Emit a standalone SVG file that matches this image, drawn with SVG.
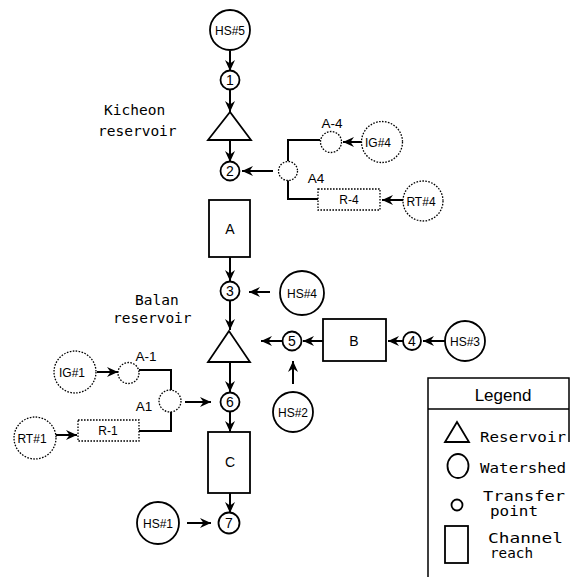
<svg xmlns="http://www.w3.org/2000/svg" width="572" height="577" viewBox="0 0 572 577">
<style>
.s{fill:#fff;stroke:#000;stroke-width:1.8}
.d{fill:#fff;stroke:#000;stroke-width:1.3;stroke-dasharray:1.6 1.4}
.ln{fill:none;stroke:#000;stroke-width:2}
.ar{fill:none;stroke:#000;stroke-width:2;marker-end:url(#ah)}
.t{font-family:"Liberation Sans",Arial,sans-serif;fill:#000;text-anchor:middle}
.hs{font-size:12px}
.n{font-size:14px}
.bx{font-size:14px}
.lb{font-size:13.5px}
.m{font-family:"DejaVu Sans Mono","Liberation Mono",monospace;fill:#000;font-size:14.5px}
.lg{font-family:"DejaVu Sans Mono","Liberation Mono",monospace;fill:#000;font-size:13.5px}
</style>
<defs>
<marker id="ah" markerUnits="userSpaceOnUse" markerWidth="12" markerHeight="10" refX="11" refY="5" orient="auto">
<path d="M0,0 L11,5 L0,10 L3.5,5 z" fill="#000"/>
</marker>
</defs>

<g id="connectors">
<line class="ar" x1="230" y1="51" x2="230" y2="71"/>
<line class="ar" x1="230" y1="90" x2="230" y2="112"/>
<line class="ar" x1="230" y1="140" x2="230" y2="162"/>
<line class="ar" x1="273" y1="171" x2="242" y2="171"/>
<line class="ar" x1="362" y1="142" x2="343" y2="142"/>
<polyline class="ln" points="288,161 288,140 320,140"/>
<polyline class="ln" points="288,180 288,199 318,199"/>
<line class="ar" x1="403" y1="200" x2="382" y2="200"/>
<line class="ar" x1="230" y1="257" x2="230" y2="281"/>
<line class="ar" x1="270" y1="292" x2="249" y2="292"/>
<line class="ar" x1="230" y1="301" x2="230" y2="330"/>
<line class="ar" x1="230" y1="362" x2="230" y2="392"/>
<line class="ar" x1="282" y1="341" x2="261" y2="341"/>
<line class="ar" x1="323" y1="341" x2="303" y2="341"/>
<line class="ar" x1="403" y1="341" x2="388" y2="341"/>
<line class="ar" x1="445" y1="341" x2="423" y2="341"/>
<line class="ar" x1="293" y1="384" x2="293" y2="361"/>
<line class="ar" x1="97" y1="372" x2="118" y2="372"/>
<polyline class="ln" points="139,370 171,370 171,390"/>
<polyline class="ln" points="171,412 171,431 139,431"/>
<line class="ar" x1="55" y1="435" x2="77" y2="435"/>
<line class="ar" x1="185" y1="402" x2="211" y2="402"/>
<line class="ar" x1="230" y1="412" x2="230" y2="432"/>
<line class="ar" x1="230" y1="493" x2="230" y2="513"/>
<line class="ar" x1="187" y1="523" x2="211" y2="523"/>
</g>

<g id="hs5"><circle class="s" cx="230" cy="30" r="20"/><text class="t hs" x="230" y="34.5">HS#5</text></g>
<g id="n1"><circle class="s" cx="230" cy="80" r="9.5"/><text class="t n" x="230" y="85">1</text></g>
<g id="kicheon"><polygon class="s" points="230,112 208,140 251,140"/>
<text class="m" x="104" y="115">Kicheon</text><text class="m" x="98" y="136">reservoir</text></g>
<g id="n2"><circle class="s" cx="230" cy="171" r="9.5"/><text class="t n" x="230" y="176">2</text></g>
<g id="a4"><circle class="d" cx="288" cy="171" r="9.5"/><text class="t lb" x="316" y="183">A4</text></g>
<g id="am4"><circle class="d" cx="331" cy="142" r="10.5"/><text class="t lb" x="332" y="128">A-4</text></g>
<g id="ig4"><circle class="d" cx="382" cy="142" r="20.5"/><text class="t hs" x="378" y="146.5">IG#4</text></g>
<g id="r4"><rect class="d" x="318" y="189" width="62" height="21"/><text class="t hs" x="349" y="204">R-4</text></g>
<g id="rt4"><circle class="d" cx="423" cy="201" r="20"/><text class="t hs" x="421" y="205.5">RT#4</text></g>
<g id="A"><rect class="s" x="209" y="200" width="41" height="57"/><text class="t bx" x="230" y="234">A</text></g>
<g id="n3"><circle class="s" cx="230" cy="291" r="9.5"/><text class="t n" x="230" y="296">3</text></g>
<g id="hs4"><circle class="s" cx="302" cy="293" r="22"/><text class="t hs" x="302" y="297.5">HS#4</text></g>
<g id="balan"><polygon class="s" points="229,331 208,362 250,362"/>
<text class="m" x="135" y="305">Balan</text><text class="m" x="113" y="323">reservoir</text></g>
<g id="n5"><circle class="s" cx="292" cy="341" r="9.5"/><text class="t n" x="292" y="346">5</text></g>
<g id="B"><rect class="s" x="323" y="319" width="63" height="42"/><text class="t bx" x="354" y="346">B</text></g>
<g id="n4"><circle class="s" cx="412" cy="341" r="9"/><text class="t n" x="412" y="346">4</text></g>
<g id="hs3"><circle class="s" cx="465" cy="341" r="20"/><text class="t hs" x="465" y="345.5">HS#3</text></g>
<g id="hs2"><circle class="s" cx="293" cy="412" r="20"/><text class="t hs" x="293" y="416.5">HS#2</text></g>
<g id="ig1"><circle class="d" cx="75" cy="372" r="21"/><text class="t hs" x="72" y="376.5">IG#1</text></g>
<g id="am1"><circle class="d" cx="128.5" cy="373" r="10.5"/><text class="t lb" x="146" y="361">A-1</text></g>
<g id="a1"><circle class="d" cx="170" cy="401" r="11"/><text class="t lb" x="144" y="411">A1</text></g>
<g id="r1"><rect class="d" x="78" y="420" width="61" height="21"/><text class="t hs" x="108" y="435">R-1</text></g>
<g id="rt1"><circle class="d" cx="35" cy="438" r="21"/><text class="t hs" x="32" y="442.5">RT#1</text></g>
<g id="n6"><circle class="s" cx="230" cy="402" r="9.5"/><text class="t n" x="230" y="407">6</text></g>
<g id="C"><rect class="s" x="208" y="432" width="42" height="61"/><text class="t bx" x="230" y="467">C</text></g>
<g id="n7"><circle class="s" cx="229" cy="523" r="10.5"/><text class="t n" x="229" y="528">7</text></g>
<g id="hs1"><circle class="s" cx="158" cy="523" r="21"/><text class="t hs" x="158" y="527.5">HS#1</text></g>

<g id="legend">
<polyline class="ln" style="stroke-width:1.5" points="428,577 428,378 569,378 569,442"/>
<line class="ln" style="stroke-width:1.5" x1="428" y1="409" x2="569" y2="409"/>
<text class="t" style="font-size:17px" x="503" y="401">Legend</text>
<polygon class="s" points="457,422 445,442 469,442"/>
<text class="lg" x="480" y="442" textLength="86" lengthAdjust="spacingAndGlyphs">Reservoir</text>
<ellipse class="s" cx="458" cy="466" rx="10.5" ry="12"/>
<text class="lg" x="480" y="473" textLength="86" lengthAdjust="spacingAndGlyphs">Watershed</text>
<circle class="s" cx="457" cy="505" r="5.5"/>
<text class="lg" x="483" y="501" textLength="82" lengthAdjust="spacingAndGlyphs">Transfer</text>
<text class="lg" x="490" y="516" textLength="48" lengthAdjust="spacingAndGlyphs">point</text>
<rect class="s" x="445" y="526" width="23" height="37"/>
<text class="lg" x="488" y="543" textLength="75" lengthAdjust="spacingAndGlyphs">Channel</text>
<text class="lg" x="490" y="558" textLength="43" lengthAdjust="spacingAndGlyphs">reach</text>
</g>
</svg>
